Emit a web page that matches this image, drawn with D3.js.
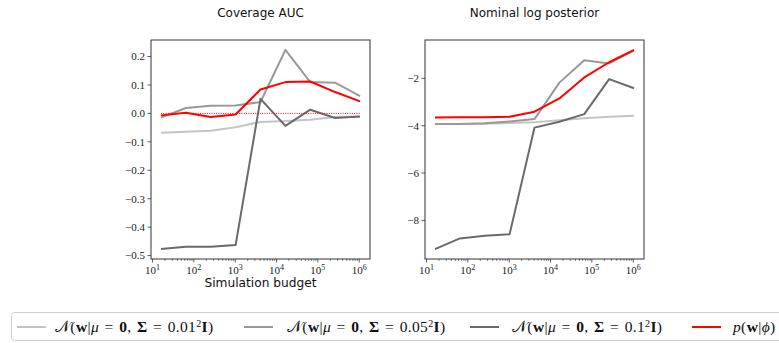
<!DOCTYPE html>
<html>
<head>
<meta charset="utf-8">
<script src="https://cdn.jsdelivr.net/npm/d3@7"></script>
<style>
  html, body { margin: 0; padding: 0; background: #fff; }
  svg { display: block; }
  .tick text { font-family: "Liberation Serif", "DejaVu Serif", serif; }
</style>
</head>
<body>
<svg id="chart" width="779" height="343"></svg>
<script>
// Simulation budgets (2^4 ... 2^20)
const budgets = [16, 64, 256, 1024, 4096, 16384, 65536, 262144, 1048576];

// Coverage AUC per prior
const aucSmall = [-0.068, -0.065, -0.061, -0.049, -0.030, -0.027, -0.022, -0.013, -0.011];
const aucMid   = [-0.015, 0.019, 0.027, 0.028, 0.040, 0.223, 0.110, 0.108, 0.061];
const aucLarge = [-0.477, -0.469, -0.469, -0.463, 0.051, -0.044, 0.013, -0.016, -0.011];
const aucPrior = [-0.007, 0.002, -0.013, -0.004, 0.084, 0.110, 0.112, 0.075, 0.042];

// Nominal log posterior per prior
const logSmall = [-3.93, -3.93, -3.92, -3.89, -3.85, -3.77, -3.68, -3.62, -3.58];
const logMid   = [-3.93, -3.93, -3.90, -3.82, -3.72, -2.18, -1.23, -1.37, -0.82];
const logLarge = [-9.21, -8.76, -8.65, -8.58, -4.08, -3.83, -3.51, -2.03, -2.42];
const logPrior = [-3.65, -3.64, -3.64, -3.62, -3.41, -2.85, -1.96, -1.32, -0.80];

const aucTicks = [0.2, 0.1, 0.0, -0.1, -0.2, -0.3, -0.4, -0.5];
const logTicks = [-2, -4, -6, -8];
const xTickExps = [1, 2, 3, 4, 5, 6];

const seriesStyle = [
  { key: "small", color: "#c4c4c4" },
  { key: "mid",   color: "#999999" },
  { key: "large", color: "#6a6a6a" },
  { key: "prior", color: "#ff0000" }
];

const svg = d3.select("#chart");

function padded(lo, hi, log) {
  if (log) {
    const a = Math.log10(lo), b = Math.log10(hi), m = (b - a) * 0.05;
    return [Math.pow(10, a - m), Math.pow(10, b + m)];
  }
  const m = (hi - lo) * 0.05;
  return [lo - m, hi + m];
}

function drawPanel(opts) {
  const { x0, x1, y0, y1, title, series, yTicks, yFmt, xlabel, zeroLine } = opts;
  const g = svg.append("g");
  const x = d3.scaleLog()
    .domain(padded(d3.min(budgets), d3.max(budgets), true))
    .range([x0, x1]);
  const all = series.flat();
  const y = d3.scaleLinear()
    .domain(padded(d3.min(all), d3.max(all), false))
    .range([y1, y0]);

  // minor x ticks
  const minor = [];
  for (let e = 0; e <= 6; e++) for (let k = 2; k <= 9; k++) {
    const v = k * Math.pow(10, e);
    if (v >= x.domain()[0] && v <= x.domain()[1]) minor.push(v);
  }
  g.append("g").selectAll("line").data(minor).join("line")
    .attr("x1", d => x(d)).attr("x2", d => x(d))
    .attr("y1", y1).attr("y2", y1 + 2)
    .attr("stroke", "#333").attr("stroke-width", 0.6);

  // major x ticks with 10^k labels
  const xt = g.append("g").selectAll("g").data(xTickExps).join("g")
    .attr("class", "tick")
    .attr("transform", d => `translate(${x(Math.pow(10, d))},${y1})`);
  xt.append("line").attr("y2", 3.5).attr("stroke", "#333").attr("stroke-width", 0.8);
  const xtText = xt.append("text").attr("y", 15).attr("text-anchor", "middle")
    .attr("font-size", 11).attr("fill", "#222");
  xtText.append("tspan").text("10");
  xtText.append("tspan").attr("dy", -4.5).attr("font-size", 8).text(d => d);

  // y ticks
  const yt = g.append("g").selectAll("g").data(yTicks).join("g")
    .attr("class", "tick")
    .attr("transform", d => `translate(${x0},${y(d)})`);
  yt.append("line").attr("x2", -3.5).attr("stroke", "#333").attr("stroke-width", 0.8);
  yt.append("text").attr("x", -6).attr("dy", "0.35em").attr("text-anchor", "end")
    .attr("font-size", 11).attr("fill", "#222").text(yFmt);

  // series lines
  const line = d3.line().x((d, i) => x(budgets[i])).y(d => y(d));
  series.forEach((s, i) => {
    g.append("path").datum(s).attr("d", line)
      .attr("fill", "none").attr("stroke", seriesStyle[i].color)
      .attr("stroke-width", 2).attr("stroke-linejoin", "round");
  });

  if (zeroLine) {
    g.append("line")
      .attr("x1", x(budgets[0])).attr("x2", x(budgets[budgets.length - 1]))
      .attr("y1", y(0)).attr("y2", y(0))
      .attr("stroke", "#ff0000").attr("stroke-width", 1)
      .attr("stroke-dasharray", "1,1.3");
  }

  // frame
  g.append("rect").attr("x", x0).attr("y", y0)
    .attr("width", x1 - x0).attr("height", y1 - y0)
    .attr("fill", "none").attr("stroke", "#333").attr("stroke-width", 1);

  g.append("text").attr("x", (x0 + x1) / 2).attr("y", 17)
    .attr("text-anchor", "middle").attr("font-family", "DejaVu Sans, sans-serif")
    .attr("font-size", 12).attr("fill", "#111").text(title);

  if (xlabel) {
    g.append("text").attr("x", (x0 + x1) / 2).attr("y", 287)
      .attr("text-anchor", "middle").attr("font-family", "DejaVu Sans, sans-serif")
      .attr("font-size", 12.2).attr("fill", "#111").text(xlabel);
  }
}

const fmtAuc = d => (d < 0 ? "\u2212" : "") + Math.abs(d).toFixed(1);
const fmtLog = d => (d < 0 ? "\u2212" : "") + Math.abs(d);

drawPanel({
  x0: 151, x1: 370, y0: 40, y1: 259,
  title: "Coverage AUC",
  series: [aucSmall, aucMid, aucLarge, aucPrior],
  yTicks: aucTicks, yFmt: fmtAuc,
  xlabel: "Simulation budget", zeroLine: true
});

drawPanel({
  x0: 425, x1: 644, y0: 40, y1: 259,
  title: "Nominal log posterior",
  series: [logSmall, logMid, logLarge, logPrior],
  yTicks: logTicks, yFmt: fmtLog,
  xlabel: null, zeroLine: false
});

// Legend
const legend = svg.append("g");
legend.append("rect").attr("x", 11.5).attr("y", 312.5).attr("width", 790).attr("height", 28)
  .attr("rx", 3).attr("fill", "#fff").attr("stroke", "#d0d0d0").attr("stroke-width", 1);

const legendItems = [
  { lx: 17, tx: 55, color: seriesStyle[0].color, kind: "gauss", sigma: "0.01" },
  { lx: 244, tx: 287, color: seriesStyle[1].color, kind: "gauss", sigma: "0.05" },
  { lx: 470, tx: 512, color: seriesStyle[2].color, kind: "gauss", sigma: "0.1" },
  { lx: 692, tx: 733, color: seriesStyle[3].color, kind: "prior" }
];
const ly = 327;
const sp = "\u2004";
legendItems.forEach(it => {
  legend.append("line").attr("x1", it.lx).attr("x2", it.lx + 29)
    .attr("y1", ly).attr("y2", ly).attr("stroke", it.color).attr("stroke-width", 2);
  const t = legend.append("text").attr("x", it.tx).attr("y", ly + 5)
    .attr("font-family", "Liberation Serif, DejaVu Serif, serif")
    .attr("font-size", 15.5).attr("letter-spacing", 0.35).attr("fill", "#111");
  const span = (s, o = {}) => {
    const ts = t.append("tspan").text(s);
    if (o.b) ts.attr("font-weight", "bold");
    if (o.i) ts.attr("font-style", "italic");
    if (o.fs) ts.attr("font-size", o.fs);
    if (o.dy !== undefined) ts.attr("dy", o.dy);
    if (o.ff) ts.attr("font-family", o.ff);
    return ts;
  };
  if (it.kind === "gauss") {
    span("\u{1D4A9}", { ff: "DejaVu Sans, serif" });
    span("(");
    span("w", { b: true });
    span("|");
    span("\u03BC", { i: true });
    span(sp + "=" + sp);
    span("0", { b: true });
    span("," + sp);
    span("\u03A3", { b: true });
    span(sp + "=" + sp + it.sigma);
    span("2", { fs: 10, dy: -5.5 });
    span("I", { b: true, dy: 5.5 });
    span(")");
  } else {
    span("p", { i: true });
    span("(");
    span("w", { b: true });
    span("|");
    span("\u03D5", { i: true });
    span(")");
  }
});
</script>
</body>
</html>
